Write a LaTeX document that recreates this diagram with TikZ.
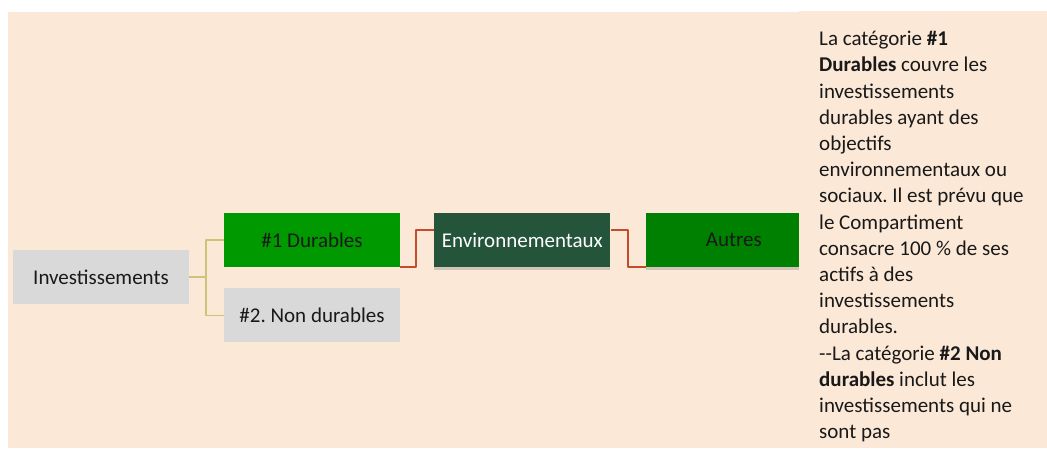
\documentclass[tikz,border=0pt]{standalone}
\usepackage{fontspec}
\setmainfont{Carlito}
\frenchspacing
\usetikzlibrary{positioning,shadows}
\definecolor{bgbeige}{HTML}{FBE8D7}
\definecolor{boxgray}{HTML}{D9D9D9}
\definecolor{durgreen}{HTML}{009900}
\definecolor{envgreen}{HTML}{245439}
\definecolor{autgreen}{HTML}{008000}
\definecolor{forkline}{HTML}{CFC27A}
\definecolor{linkred}{HTML}{C64B2C}
\begin{document}
\begin{tikzpicture}[x=1pt, y=-1pt, font=\fontsize{21}{26.2}\selectfont, line join=round,
		box/.style={minimum width=176pt, minimum height=54pt, inner sep=0pt, text=black!90},
		shadowed/.style={drop shadow={opacity=0.35, shadow xshift=0pt, shadow yshift=-3pt}},
		forkedge/.style={draw=forkline, line width=1.5pt},
		linkedge/.style={draw=linkred, line width=2pt}]
	\useasboundingbox (0,0) rectangle (1047,448);
	\fill[bgbeige] (8,12) rectangle (799,448);
	% tree nodes
	\node[box, fill=boxgray] (inv) at (101,277) {Investissements};
	\node[box, fill=durgreen] (dur) at (312,240) {\#1 Durables};
	\node[box, fill=boxgray, below=21pt of dur] (nondur) {\#2. Non durables};
	\node[box, shadowed, fill=envgreen, text=white, right=34pt of dur] (env) {Environnementaux};
	\node[box, shadowed, fill=autgreen, right=35pt of env] (autres) {Autres};
	% connectors
	\draw[forkedge] (inv.east) -- ++(17,0) |- (dur.west);
	\draw[forkedge] (inv.east) -- ++(17,0) |- (nondur.west);
	\draw[linkedge] (dur.south east) -- ++(16,0) |- ([yshift=10pt]env.west);
	\draw[linkedge] ([yshift=10pt]env.east) -- ++(17,0) |- (autres.south west);
	% text panel
	\fill[bgbeige] (799,11) rectangle (1047,448);
	\node[anchor=north west, align=left, inner sep=0pt, text=black!90] (note) at (819,31) {%
		La catégorie \textbf{\#1}\\
		\textbf{Durables} couvre les\\
		investissements\\
		durables ayant des\\
		objectifs\\
		environnementaux ou\\
		sociaux. Il est prévu que\\
		le Compartiment\\
		consacre 100~\% de ses\\
		actifs à des\\
		investissements\\
		durables.\\
		-{}-La catégorie \textbf{\#2 Non}\\
		\textbf{durables} inclut les\\
		investissements qui ne\\
		sont pas};
\end{tikzpicture}
\end{document}
